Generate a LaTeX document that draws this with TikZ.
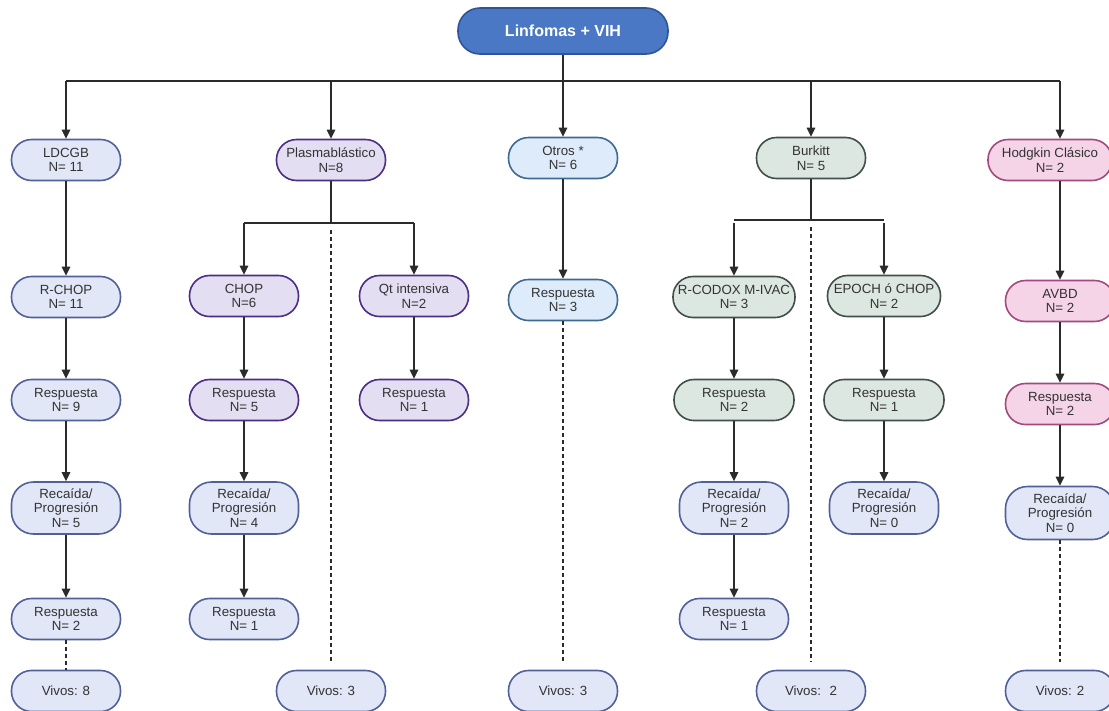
\documentclass[tikz,border=0pt]{standalone}
\usepackage{fontspec}
\setmainfont{Liberation Sans}
\usetikzlibrary{arrows.meta}
\definecolor{trazo}{HTML}{2B2B2B}
\definecolor{rellT}{HTML}{4A78C4}
\definecolor{bordT}{HTML}{2E5597}
\definecolor{rellA}{HTML}{E1E7F7}
\definecolor{bordA}{HTML}{52609A}
\definecolor{rellP}{HTML}{E4DEF2}
\definecolor{bordP}{HTML}{4B2E83}
\definecolor{rellO}{HTML}{DEEBFA}
\definecolor{bordO}{HTML}{3E6990}
\definecolor{rellB}{HTML}{DCE7E2}
\definecolor{bordB}{HTML}{414F4A}
\definecolor{rellH}{HTML}{F5D4E8}
\definecolor{bordH}{HTML}{A24A7E}

\begin{document}
\begin{tikzpicture}[x=1pt,y=-1pt,
    caja/.style={draw,rounded corners=20pt,line width=1.6pt,minimum width=109pt,minimum height=41pt,
        align=center,inner sep=2pt,text=black!80,font=\fontsize{13.3}{14.5}\selectfont},
    titulo/.style={caja,draw=bordT,fill=rellT,text=white,minimum width=210pt,minimum height=46pt,
        rounded corners=22pt,font=\fontsize{16}{18}\selectfont\bfseries},
    ldc/.style={caja,draw=bordA,fill=rellA},
    pla/.style={caja,draw=bordP,fill=rellP},
    otr/.style={caja,draw=bordO,fill=rellO},
    bur/.style={caja,draw=bordB,fill=rellB},
    hod/.style={caja,draw=bordH,fill=rellH},
    rec/.style={ldc,minimum height=52pt,rounded corners=22pt},
    linea/.style={line width=1.6pt,draw=trazo},
    flecha/.style={linea,-{Triangle[length=9pt,width=8.5pt]}},
    puntos/.style={line width=2.5pt,draw=trazo,dash pattern=on 4pt off 3pt}]
    \fill[white] (0,0) rectangle (1109,710);
    \useasboundingbox (0,0) rectangle (1109,710);

    % La raiz y las cabeceras de cada linfoma
    \node[titulo] (lin) at (563,31) {Linfomas + VIH};
    \coordinate (bus) at (563,81);
    \node[ldc] (ldcgb) at (66,160) {LDCGB\\N= 11};
    \node[pla] (plas) at (331,160) {Plasmablástico\\N=8};
    \node[otr] (otros) at (563,158) {Otros *\\N= 6};
    \node[bur] (burk) at (811,158) {Burkitt\\N= 5};
    \node[hod,minimum width=124pt] (hodg) at (1050,160) {Hodgkin Clásico\\N= 2};

    % LDCGB
    \node[ldc] (rchop) at (66,297) {R-CHOP\\N= 11};
    \node[ldc] (resp9) at (66,400) {Respuesta\\N= 9};
    \node[rec] (rec5) at (66,508) {Recaída/\\Progresión\\N= 5};
    \node[ldc] (resp2) at (66,619) {Respuesta\\N= 2};
    \node[ldc] (viv8) at (66,691) {Vivos: 8};

    % Plasmablastico
    \coordinate (ramP) at (331,223);
    \node[pla] (chop) at (244,296) {CHOP\\N=6};
    \node[pla] (qt) at (414,296) {Qt intensiva\\N=2};
    \node[pla] (resp5) at (244,400) {Respuesta\\N= 5};
    \node[pla] (resp1q) at (414,400) {Respuesta\\N= 1};
    \node[rec] (rec4) at (244,508) {Recaída/\\Progresión\\N= 4};
    \node[ldc] (resp1c) at (244,619) {Respuesta\\N= 1};
    \node[ldc] (viv3p) at (331,691) {Vivos: 3};

    % Otros
    \node[otr] (resp3) at (563,300) {Respuesta\\N= 3};
    \node[ldc] (viv3o) at (563,691) {Vivos: 3};

    % Burkitt
    \coordinate (ramB) at (811,220);
    \node[bur,minimum width=122pt] (rcod) at (734,297) {R-CODOX M-IVAC\\N= 3};
    \node[bur,minimum width=113pt] (epoch) at (884,296) {EPOCH ó CHOP\\N= 2};
    \node[bur,minimum width=120pt] (resp2b) at (734,400) {Respuesta\\N= 2};
    \node[bur,minimum width=120pt] (resp1e) at (884,400) {Respuesta\\N= 1};
    \node[rec] (rec2) at (734,508) {Recaída/\\Progresión\\N= 2};
    \node[rec] (rec0) at (884,508) {Recaída/\\Progresión\\N= 0};
    \node[ldc] (resp1b) at (734,619) {Respuesta\\N= 1};
    \node[ldc] (viv2b) at (811,691) {Vivos:~ 2};

    % Hodgkin
    \node[hod] (avbd) at (1060,301) {AVBD\\N= 2};
    \node[hod] (resp2h) at (1060,404) {Respuesta\\N= 2};
    \node[rec,minimum height=53pt] (rec0h) at (1060,513) {Recaída/\\Progresión\\N= 0};
    \node[ldc] (viv2h) at (1060,691) {Vivos: 2};

    % Conectores
    \draw[flecha] (lin) -- (otros);
    \draw[linea] (bus -| ldcgb) -- (bus -| avbd);
    \foreach \n in {ldcgb,plas,burk}
        \draw[flecha] (bus -| \n) -- (\n);
    \draw[flecha] (bus -| avbd) -- (hodg.north -| avbd);
    \draw[flecha] (hodg.south -| avbd) -- (avbd);

    \draw[linea] (plas) -- (ramP);
    \draw[linea] (ramP -| chop) -- (ramP -| qt);
    \draw[linea] (burk) -- (ramB);
    \draw[linea] (ramB -| rcod) -- (ramB -| epoch);
    \foreach \n in {chop,qt,rcod,epoch}
        \draw[flecha] (ramP -| \n) -- (\n);

    \foreach \a/\b in {ldcgb/rchop,rchop/resp9,resp9/rec5,rec5/resp2,
                       chop/resp5,resp5/rec4,rec4/resp1c,qt/resp1q,otros/resp3,
                       rcod/resp2b,resp2b/rec2,rec2/resp1b,epoch/resp1e,resp1e/rec0,
                       avbd/resp2h,resp2h/rec0h}
        \draw[flecha] (\a) -- (\b);

    \draw[puntos] (resp2) -- (viv8);
    \draw[puntos,shorten <=7pt,shorten >=8pt] (ramP) -- (viv3p);
    \draw[puntos,shorten >=8pt] (resp3) -- (viv3o);
    \draw[puntos,shorten <=7pt,shorten >=8pt] (ramB) -- (viv2b);
    \draw[puntos,shorten >=8pt] (rec0h) -- (viv2h);
\end{tikzpicture}
\end{document}
